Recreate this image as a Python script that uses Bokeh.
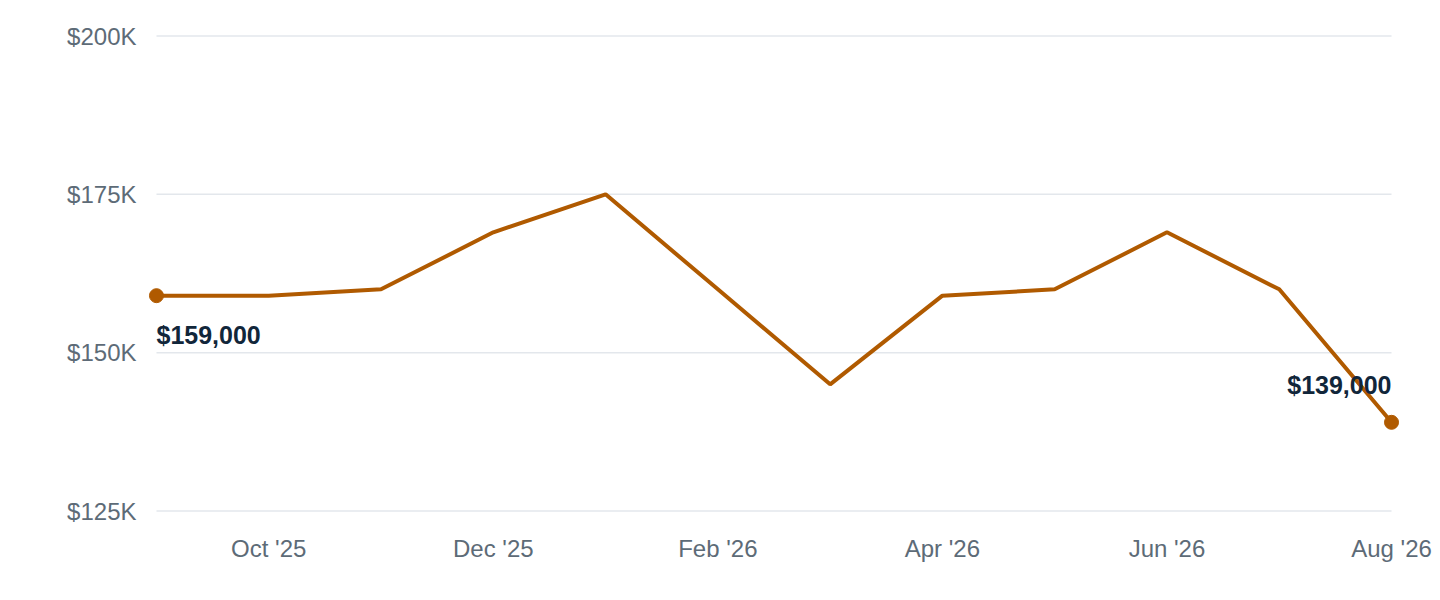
from bokeh.plotting import figure
from bokeh.models import ColumnDataSource, FixedTicker, Range1d
from bokeh.core.properties import value
from bokeh.embed import file_html
from bokeh.resources import INLINE

# 月份与价格
months = ["Sep '25", "Oct '25", "Nov '25", "Dec '25", "Jan '26", "Feb '26",
          "Mar '26", "Apr '26", "May '26", "Jun '26", "Jul '26", "Aug '26"]
prices = [159000, 159000, 160000, 169000, 175000, 160000,
          145000, 159000, 160000, 169000, 160000, 139000]
y_ticks = [125000, 150000, 175000, 200000]
y_tick_labels = ["$125K", "$150K", "$175K", "$200K"]
x_tick_idx = [1, 3, 5, 7, 9, 11]

LINE_COLOR = "#b05a00"
TEXT_DARK = "#11263a"
AXIS_GRAY = "#5d6b77"
GRID_COLOR = "#e3e7ec"
FONT = "Liberation Sans"

idx = list(range(len(months)))
source = ColumnDataSource(data={"x": idx, "price": prices, "month": months})

# 两端留一点空白，避免端点被裁切
x_pad = 0.08
y_pad = 1500
p = figure(width=1436, height=580, output_backend="svg", toolbar_location=None,
           x_range=Range1d(idx[0] - x_pad, idx[-1] + x_pad),
           y_range=Range1d(y_ticks[0] - y_pad, y_ticks[-1] + y_pad),
           min_border_left=147, min_border_right=36, min_border_top=26, min_border_bottom=60)
p.outline_line_color = None
p.background_fill_color = "white"

# 网格线（只画在数据范围内）
p.segment(x0=[idx[0]] * len(y_ticks), x1=[idx[-1]] * len(y_ticks),
          y0=y_ticks, y1=y_ticks, line_color=GRID_COLOR, line_width=1.5)

# 折线
p.line(x="x", y="price", source=source, line_width=4, color=LINE_COLOR)

# 首尾端点与标签
first = ColumnDataSource(data={"x": [idx[0]], "price": [prices[0]],
                               "label": ["${:,}".format(prices[0])]})
last = ColumnDataSource(data={"x": [idx[-1]], "price": [prices[-1]],
                              "label": ["${:,}".format(prices[-1])]})
for src in (first, last):
    p.scatter(x="x", y="price", source=src, size=14, color=LINE_COLOR)
p.text(x="x", y="price", text="label", source=first, text_align="left",
       text_baseline="top", y_offset=25, text_font=value(FONT),
       text_font_style="bold", text_font_size="25px", text_color=TEXT_DARK)
p.text(x="x", y="price", text="label", source=last, text_align="right",
       text_baseline="bottom", y_offset=-23, text_font=value(FONT),
       text_font_style="bold", text_font_size="25px", text_color=TEXT_DARK)

# 坐标轴
p.yaxis.ticker = FixedTicker(ticks=y_ticks)
p.yaxis.major_label_overrides = dict(zip(y_ticks, y_tick_labels))
p.xaxis.ticker = FixedTicker(ticks=x_tick_idx)
p.xaxis.major_label_overrides = {i: months[i] for i in x_tick_idx}
for ax in (p.xaxis, p.yaxis):
    ax.axis_line_color = None
    ax.major_tick_line_color = None
    ax.minor_tick_line_color = None
    ax.major_tick_out = 0
    ax.major_tick_in = 0
    ax.major_label_text_font = FONT
    ax.major_label_text_font_size = "24px"
    ax.major_label_text_color = AXIS_GRAY
p.yaxis.major_label_standoff = 11
p.xaxis.major_label_standoff = 14

p.xgrid.grid_line_color = None
p.ygrid.grid_line_color = None

open("out.html", "w").write(file_html(p, INLINE))
